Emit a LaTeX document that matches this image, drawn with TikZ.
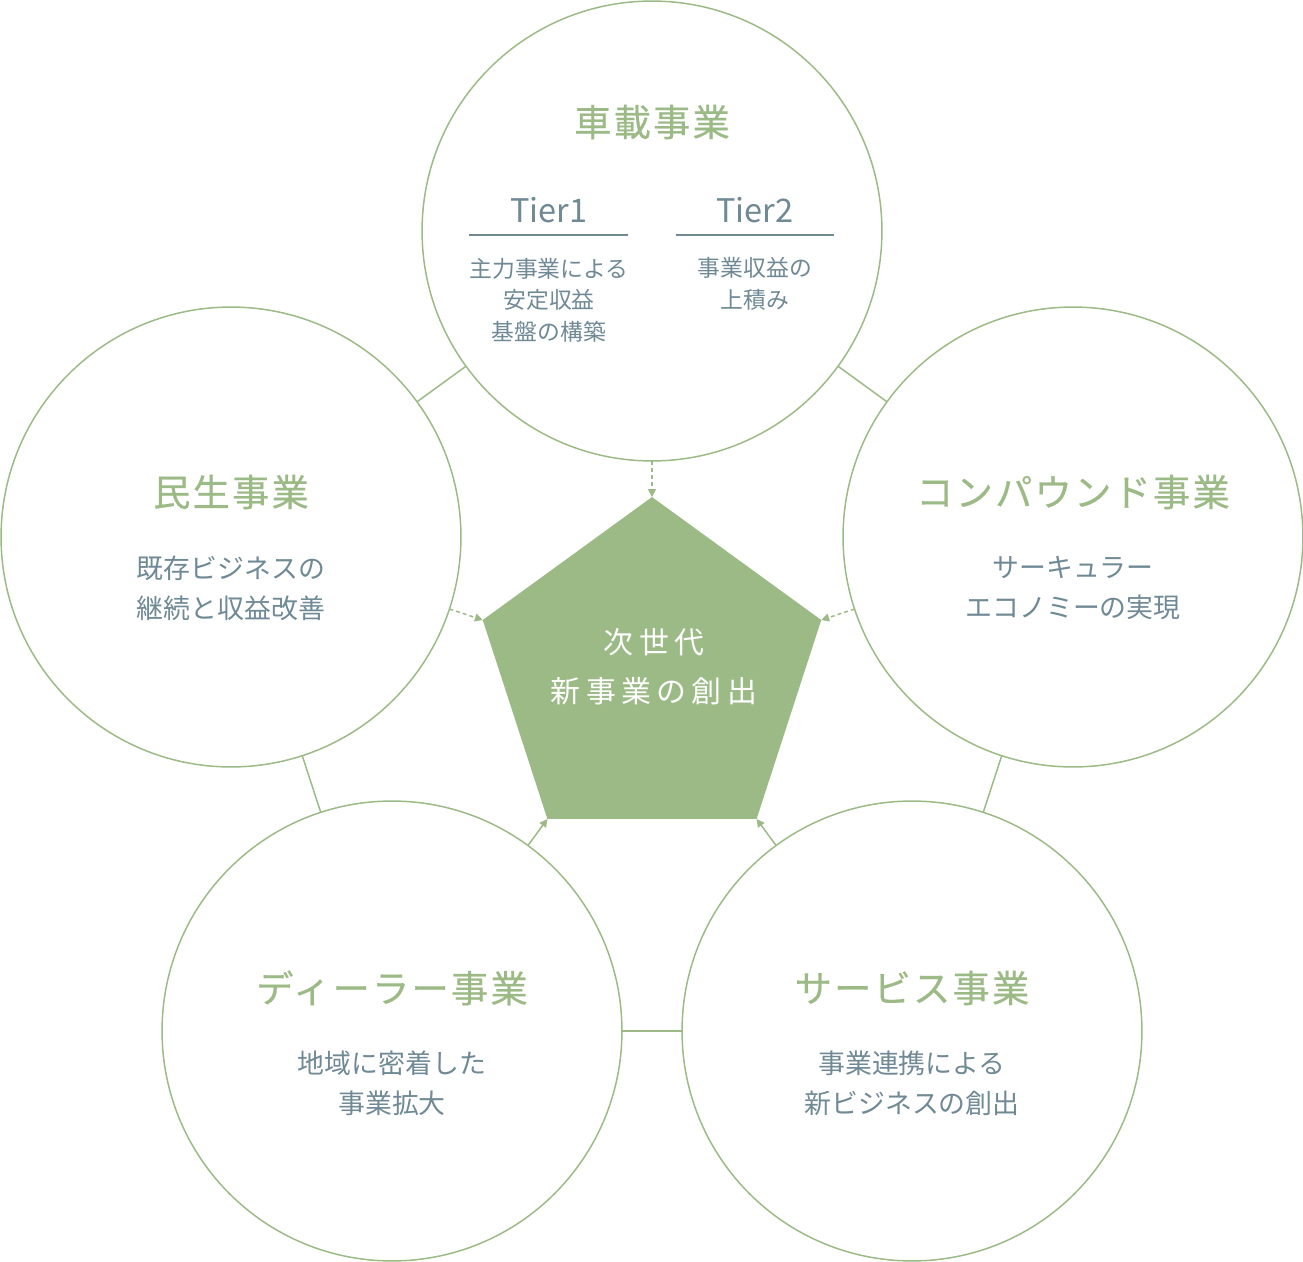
\documentclass[tikz,border=0pt]{standalone}
\usepackage{fontspec}
\setmainfont{Noto Sans CJK JP}
\usetikzlibrary{arrows.meta,shapes.geometric}
\definecolor{verde}{HTML}{9CBA86}
\definecolor{gris}{HTML}{6F8995}

\begin{document}
\begin{tikzpicture}[x=0.02cm, y=-0.02cm, >={Triangle[length=4.5pt,width=4.5pt]}, line width=0.85pt,
  ring/.style={circle, draw=verde, minimum size=9.2cm, inner sep=0pt, outer sep=0pt},
  link/.style={verde},
  dotarrow/.style={->, verde, dash pattern=on 2.2pt off 1.8pt},
  fullarrow/.style={->, verde},
  title/.style={text=verde, inner sep=0pt, font=\fontsize{21.2}{24}\selectfont\addfontfeature{LetterSpace=6,FakeBold=0.5}},
  body/.style={text=gris, align=center, inner sep=0pt, font=\fontsize{15.3}{22.6}\selectfont},
  tier/.style={text=gris, inner sep=0pt, font=\fontsize{18.5}{22}\selectfont},
  tiersub/.style={text=gris, align=center, inner sep=0pt, font=\fontsize{13}{18}\selectfont},
  coretext/.style={text=white, align=center, inner sep=0pt, font=\fontsize{17}{28}\selectfont\addfontfeature{LetterSpace=18}}]
  \useasboundingbox (0,0) rectangle (1303,1262);
  % circulos
  \node[ring] (top) at (652,231) {};
  \node[ring] (left) at (231,537) {};
  \node[ring] (right) at (1073,537) {};
  \node[ring] (dleft) at (392,1031) {};
  \node[ring] (dright) at (912,1031) {};
  % uniones
  \draw[link] (top) -- (left);
  \draw[link] (top) -- (right);
  \draw[link] (left) -- (dleft);
  \draw[link] (right) -- (dright);
  \draw[link] (dleft) -- (dright);
  % pentagono central
  \node[regular polygon, regular polygon sides=5, fill=verde, minimum size=7.12cm, inner sep=0pt, outer sep=0pt] (core) at (652,675) {};
  \node[coretext] (coretxt) at (654,667) {次世代\\新事業の創出};
  % flechas
  \draw[dotarrow] (top) -- (core.corner 1);
  \draw[dotarrow] (left) -- (core.corner 2);
  \draw[dotarrow] (right) -- (core.corner 5);
  \draw[fullarrow] (dleft) -- (core.corner 3);
  \draw[fullarrow] (dright) -- (core.corner 4);
  % arriba
  \node[title] (toptitle) at (652,122) {車載事業};
  \node[tier] (tier1) at (549,210) {Tier1};
  \node[tier] (tier2) at (755,210) {Tier2};
  \coordinate (rule1a) at (469,235);
  \coordinate (rule1b) at (628,235);
  \coordinate (rule2a) at (676,235);
  \coordinate (rule2b) at (834,235);
  \draw[gris] (rule1a) -- (rule1b);
  \draw[gris] (rule2a) -- (rule2b);
  \node[tiersub] (tier1txt) at (549,300) {主力事業による\\安定収益\\基盤の構築};
  \node[tiersub] (tier2txt) at (755,284) {事業収益の\\上積み};
  % izquierda
  \node[title] (lefttitle) at (231,492) {民生事業};
  \node[body] (lefttxt) at (231,588) {既存ビジネスの\\継続と収益改善};
  % derecha
  \node[title] (righttitle) at (1073,492) {コンパウンド事業};
  \node[body] (righttxt) at (1073,588) {サーキュラー\\エコノミーの実現};
  % abajo
  \node[title] (dlefttitle) at (392,988) {ディーラー事業};
  \node[body] (dlefttxt) at (392,1083) {地域に密着した\\事業拡大};
  \node[title] (drighttitle) at (912,988) {サービス事業};
  \node[body] (drighttxt) at (912,1083) {事業連携による\\新ビジネスの創出};
\end{tikzpicture}
\end{document}
